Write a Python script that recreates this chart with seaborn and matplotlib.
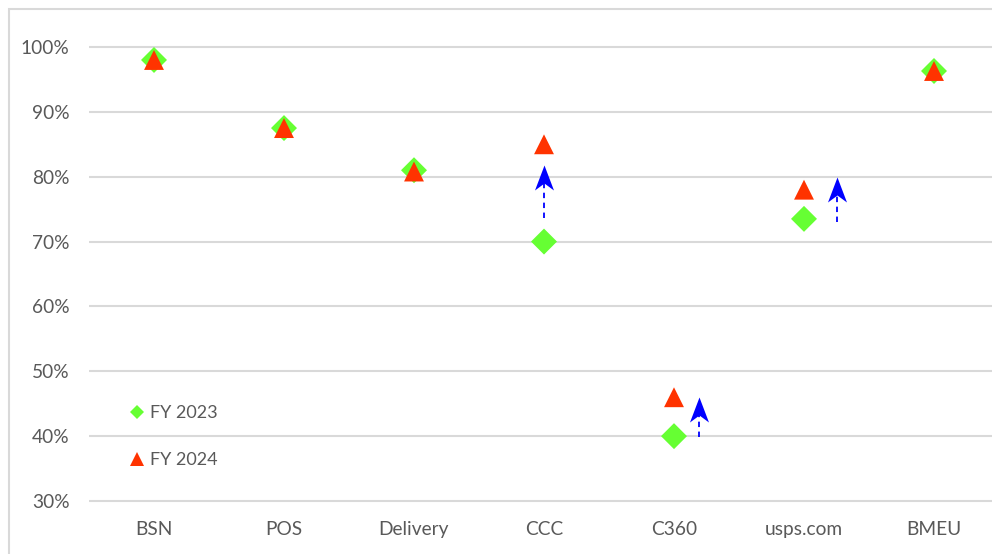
import numpy as np
import pandas as pd
import matplotlib
matplotlib.use("Agg")
import matplotlib.pyplot as plt
import seaborn as sns
from matplotlib.path import Path
from matplotlib.patches import Rectangle
from matplotlib.lines import Line2D

# ---------------- data ----------------
categories = ["BSN", "POS", "Delivery", "CCC", "C360", "usps.com", "BMEU"]
fy2023 = [98.0, 87.5, 81.0, 70.0, 40.0, 73.5, 96.3]
fy2024 = [98.0, 87.5, 80.8, 85.0, 46.0, 78.0, 96.3]
series_labels = ["FY 2023", "FY 2024"]
yticks = [30, 40, 50, 60, 70, 80, 90, 100]
ytick_labels = [f"{v}%" for v in yticks]
# improvement arrows (x position in category units, from -> to value)
arrow_x = [3.0, 4.19, 5.25]
arrow_from = [73.6, 39.9, 73.0]
arrow_to = [81.8, 46.0, 79.9]

# ---------------- style ----------------
W, H, DPI = 992, 554, 100
sns.set_theme(style="white")
plt.rcParams["font.family"] = ["Lato", "DejaVu Sans"]
TXT = "#595959"
GRID = "#d9d9d9"
GREEN = "#66FF33"
RED = "#FF3300"
BLUE = "#0000FF"

fig = plt.figure(figsize=(W / DPI, H / DPI), dpi=DPI)
fig.patch.set_facecolor("white")

# outer chart-area border (only left/top visible in the crop)
fig.patches.append(Rectangle((9 / W, -0.2), 2.0, (H - 9) / H + 0.2,
                             transform=fig.transFigure, fill=False,
                             edgecolor=GRID, linewidth=1.5))

# axes geometry in pixels
y_lo, y_hi = 28, 103
px_per_unit = (501 - 47) / 70.0
ax_bottom_px = 501 + (30 - y_lo) * px_per_unit
ax_top_px = 47 - (y_hi - 100) * px_per_unit
ax_left_px, ax_right_px = 89, 89 + 7 * 130
ax = fig.add_axes([ax_left_px / W, 1 - ax_bottom_px / H,
                   (ax_right_px - ax_left_px) / W,
                   (ax_bottom_px - ax_top_px) / H])

df = pd.DataFrame({
    "x": list(range(len(categories))) * 2,
    "Value": fy2023 + fy2024,
    "Series": [series_labels[0]] * len(categories) + [series_labels[1]] * len(categories),
})

sns.scatterplot(data=df, x="x", y="Value", hue="Series", style="Series", size="Series",
                markers={series_labels[0]: "D", series_labels[1]: "^"},
                palette={series_labels[0]: GREEN, series_labels[1]: RED},
                sizes={series_labels[0]: 175, series_labels[1]: 205},
                linewidth=0, legend=False, ax=ax, zorder=3, clip_on=False)

# arrows: dashed shaft + stealth head marker
head = Path([(0, 0), (0.38, -1.0), (0, -0.72), (-0.38, -1.0), (0, 0)],
            [Path.MOVETO, Path.LINETO, Path.LINETO, Path.LINETO, Path.CLOSEPOLY])
for xa, y0, y1 in zip(arrow_x, arrow_from, arrow_to):
    ax.plot([xa, xa], [y0, y1 - 2.0], color=BLUE, lw=1.3, ls=(0, (3, 2.5)), zorder=4)
    ax.plot([xa], [y1], marker=head, markersize=36, color=BLUE, mew=0, ls="none", zorder=5)

ax.set_xlim(-0.5, 6.5)
ax.set_ylim(y_lo, y_hi)
ax.set_xticks(range(len(categories)))
ax.set_xticklabels(categories)
ax.set_yticks(yticks)
ax.set_yticklabels(ytick_labels)
ax.set_xlabel("")
ax.set_ylabel("")
for s in ax.spines.values():
    s.set_visible(False)
ax.yaxis.grid(True, color=GRID, linewidth=1.5)
ax.xaxis.grid(False)
ax.set_axisbelow(True)
ax.tick_params(axis="both", length=0, labelsize=13.8, labelcolor=TXT)
ax.tick_params(axis="x", pad=4.8)
ax.tick_params(axis="y", pad=14.0)

handles = [Line2D([], [], marker="D", color=GREEN, ls="none", markersize=7, mew=0),
           Line2D([], [], marker="^", color=RED, ls="none", markersize=10, mew=0)]
leg = ax.legend(handles, series_labels, loc="center left",
                bbox_to_anchor=(128 / W, 1 - 436.5 / H), bbox_transform=fig.transFigure,
                frameon=False, fontsize=13, labelspacing=1.73, handlelength=1.0,
                handletextpad=0.2, borderpad=0, borderaxespad=0)
for t in leg.get_texts():
    t.set_color(TXT)

fig.savefig("out.png", dpi=DPI, facecolor="white")
